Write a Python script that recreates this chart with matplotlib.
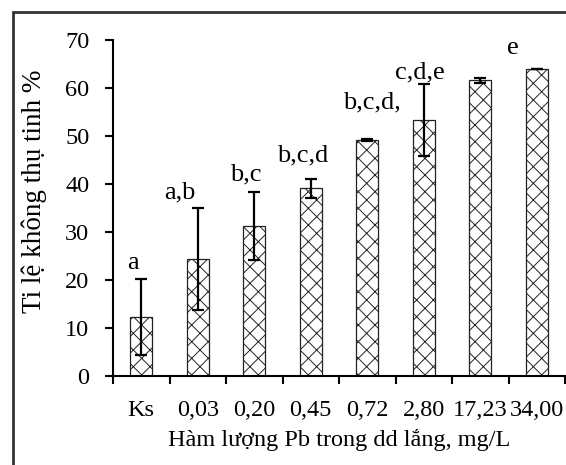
import numpy as np
import matplotlib
matplotlib.use("Agg")
import matplotlib.pyplot as plt
from matplotlib.patches import Rectangle

# du lieu
nhom = ["Ks", "0,03", "0,20", "0,45", "0,72", "2,80", "17,23", "34,00"]
ty_le = [12.3, 24.3, 31.2, 39.1, 49.2, 53.3, 61.6, 64.0]
sai_so = [8.0, 10.6, 7.1, 1.95, 0.15, 7.5, 0.5, 0.0]
chu = ["a", "a,b", "b,c", "b,c,d", "b,c,d,", "c,d,e", "e"]
chu_x = [-0.15, 0.69, 1.85, 2.86, 4.08, 4.94, 6.58]
chu_y = [23.6, 38.2, 41.9, 45.9, 56.9, 63.2, 68.3]

plt.rcParams["font.family"] = ["Liberation Serif", "DejaVu Serif"]
plt.rcParams["hatch.color"] = "#333333"
plt.rcParams["hatch.linewidth"] = 0.7

fig = plt.figure(figsize=(5.66, 4.65), dpi=100)
ax = fig.add_axes([113 / 566, 1 - 376 / 465, 452 / 566, 336 / 465])

x = np.arange(len(nhom))
ax.bar(x, ty_le, width=0.39, color="white", edgecolor="#222222",
       linewidth=0.9, hatch="xx", zorder=2)
ax.errorbar(x, ty_le, yerr=sai_so, fmt="none", ecolor="black",
            elinewidth=1.6, capsize=4.2, capthick=1.6, zorder=3)

for t, xx, yy in zip(chu, chu_x, chu_y):
    ax.text(xx, yy, t, ha="center", va="center", fontsize=19)

ax.set_xlim(-0.5, len(nhom) - 0.5)
ax.set_ylim(0, 70)
ax.set_yticks(range(0, 71, 10))
ax.set_xticks(x)
ax.set_xticklabels(nhom)
ax.set_xticks(np.arange(-0.5, len(nhom), 1), minor=True)
ax.tick_params(axis="x", which="major", length=0, pad=17, labelsize=17.5)
ax.tick_params(axis="x", which="minor", length=6, width=1.5, direction="out")
ax.tick_params(axis="y", length=6, width=1.5, pad=11, labelsize=17.5)

for s in ["top", "right"]:
    ax.spines[s].set_visible(False)
for s in ["left", "bottom"]:
    ax.spines[s].set_linewidth(1.5)

ax.set_ylabel("Ti lệ không thụ tinh %", fontsize=19.5)
ax.yaxis.set_label_coords(-(113 - 47) / 452, (376 - 191) / 336)
fig.text(339 / 566, 1 - 440 / 465, "Hàm lượng Pb trong dd lắng, mg/L",
         ha="center", va="center", fontsize=17.5)

# khung ngoai
fig.patches.append(Rectangle((13 / 566, -0.05), 1.2, 1 - 12 / 465 + 0.05,
                             transform=fig.transFigure, fill=False,
                             edgecolor="#333333", linewidth=2))

fig.savefig("out.png", dpi=100)
